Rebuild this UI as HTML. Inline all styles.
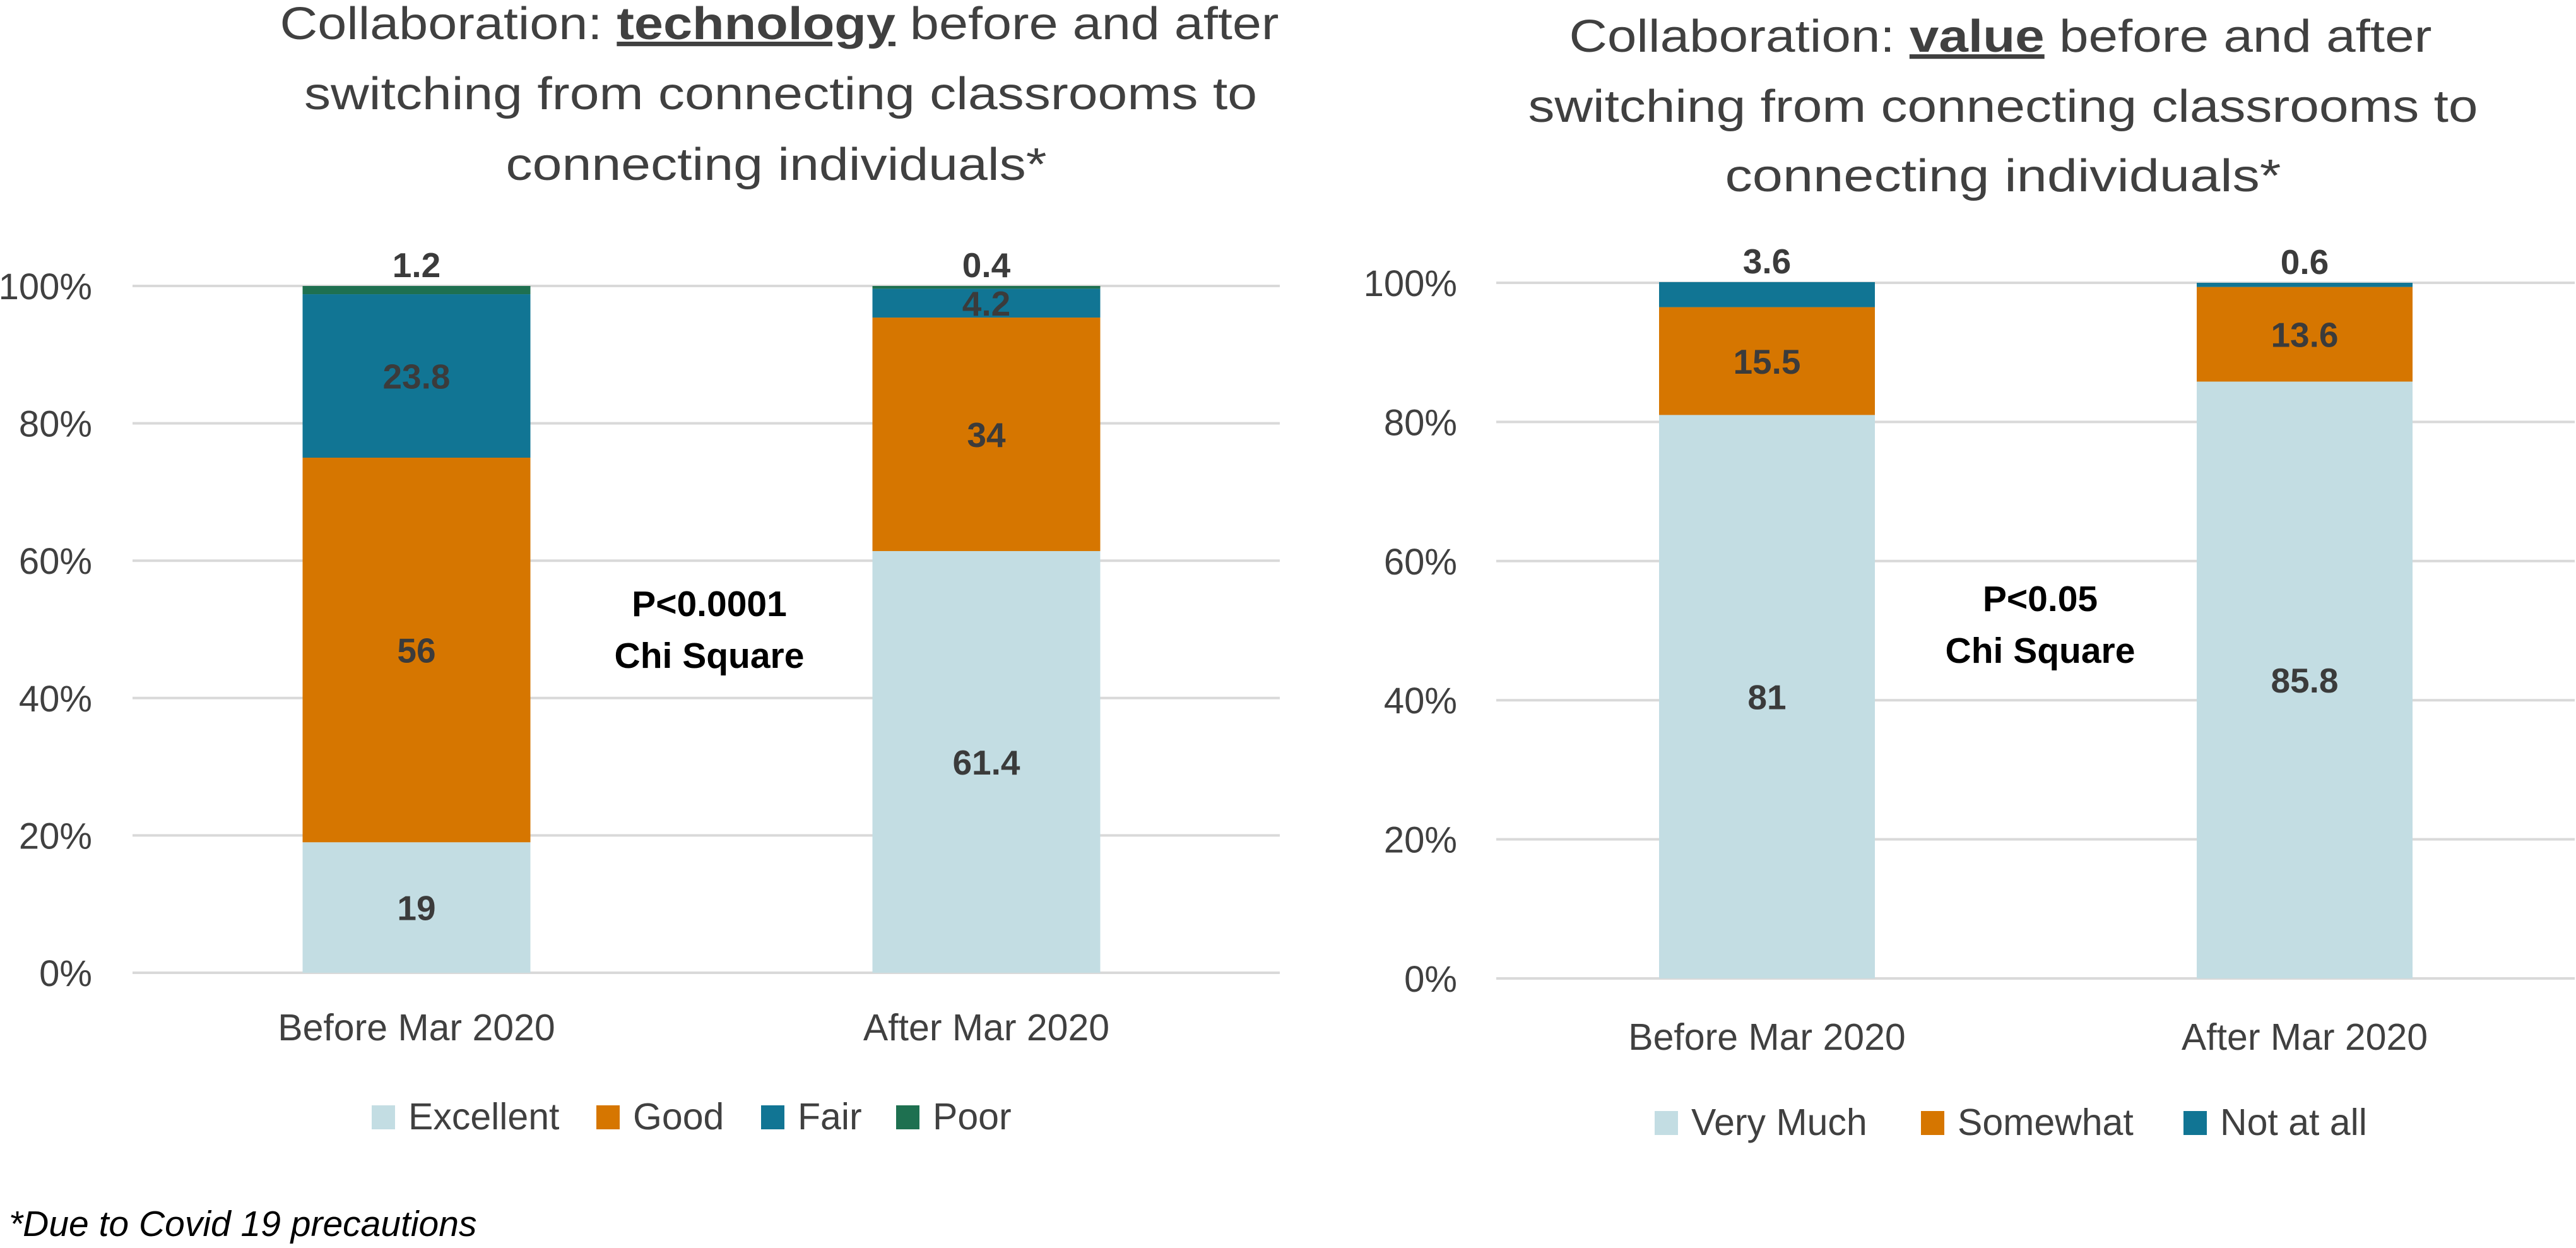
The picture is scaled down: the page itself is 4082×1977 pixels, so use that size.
<!DOCTYPE html>
<html><head><meta charset="utf-8">
<style>
html,body{margin:0;padding:0;background:#fff;}
svg{display:block;font-family:"Liberation Sans",sans-serif;}
</style></head>
<body>
<svg id="root" width="4082" height="1977" viewBox="0 0 4082 1977" xmlns="http://www.w3.org/2000/svg">
  <g fill="#404040" font-size="72" text-anchor="middle">
    <text x="1235" y="62" textLength="1583" lengthAdjust="spacingAndGlyphs">Collaboration: <tspan font-weight="bold" text-decoration="underline">technology</tspan> before and after</text>
    <text x="1237" y="173" textLength="1510" lengthAdjust="spacingAndGlyphs">switching from connecting classrooms to</text>
    <text x="1230" y="285" textLength="857" lengthAdjust="spacingAndGlyphs">connecting individuals*</text>
  </g>
  <g fill="#404040" font-size="72" text-anchor="middle">
    <text x="3170" y="82" textLength="1367" lengthAdjust="spacingAndGlyphs">Collaboration: <tspan font-weight="bold" text-decoration="underline">value</tspan> before and after</text>
    <text x="3174" y="193" textLength="1505" lengthAdjust="spacingAndGlyphs">switching from connecting classrooms to</text>
    <text x="3174" y="303" textLength="881" lengthAdjust="spacingAndGlyphs">connecting individuals*</text>
  </g>
  <g id="left"></g>
  <g id="right"></g>
  <g font-weight="bold" font-size="57" fill="#000" text-anchor="middle">
    <text x="1124" y="976">P&lt;0.0001</text>
    <text x="1124" y="1058">Chi Square</text>
  </g>
  <g font-weight="bold" font-size="57" fill="#000" text-anchor="middle">
    <text x="3233" y="968">P&lt;0.05</text>
    <text x="3233" y="1050">Chi Square</text>
  </g>
  <text x="14" y="1958" font-size="57" font-style="italic" fill="#000">*Due to Covid 19 precautions</text>
</svg>
<script>
// Left chart data
const leftCategories = ["Before Mar 2020", "After Mar 2020"];
const leftSeriesNames = ["Excellent", "Good", "Fair", "Poor"];
const leftExcellent = [19, 61.4];
const leftGood = [56, 34];
const leftFair = [23.8, 4.2];
const leftPoor = [1.2, 0.4];
// Right chart data
const rightCategories = ["Before Mar 2020", "After Mar 2020"];
const rightSeriesNames = ["Very Much", "Somewhat", "Not at all"];
const rightVeryMuch = [81, 85.8];
const rightSomewhat = [15.5, 13.6];
const rightNotAtAll = [3.6, 0.6];
const yTicks = [0, 20, 40, 60, 80, 100];
const yTickLabels = ["0%", "20%", "40%", "60%", "80%", "100%"];

const NS = "http://www.w3.org/2000/svg";
function mk(tag, attrs, parent) {
  const e = document.createElementNS(NS, tag);
  for (const k in attrs) e.setAttribute(k, attrs[k]);
  parent.appendChild(e);
  return e;
}

function drawChart(g, cfg) {
  const yScale = v => cfg.y0 - (v / 100) * (cfg.y0 - cfg.y100);
  // gridlines + ticks
  yTicks.forEach((t, i) => {
    const ln = mk("line", {x1: cfg.gx0, x2: cfg.gx1, y1: yScale(t), y2: yScale(t), stroke: "#D9D9D9", "stroke-width": 4}, g);
    
    
    const tx = mk("text", {x: cfg.labelRight, y: yScale(t) + 21, "text-anchor": "end", "font-size": 58, fill: "#404040"}, g);
    tx.textContent = yTickLabels[i];
    
    
  });
  // bars
  cfg.categories.forEach((cat, ci) => {
    const cx = cfg.centers[ci];
    let cum = 0;
    cfg.series.forEach((s, si) => {
      const v = s[ci];
      const yTop = yScale(cum + v), yBot = yScale(cum);
      const r = mk("rect", {x: cx - cfg.bw / 2, y: yTop, width: cfg.bw, height: yBot - yTop, fill: cfg.colors[si]}, g);
      
      
      const isTop = si === cfg.series.length - 1;
      const ly = isTop ? yTop - 14 : (yTop + yBot) / 2 + 20;
      const lt = mk("text", {x: cx, y: ly, "text-anchor": "middle", "font-size": 55, "font-weight": "bold", fill: "#3B3B3B"}, g);
      lt.textContent = String(v);
      
      
      cum += v;
    });
    const cl = mk("text", {x: cx, y: cfg.catY, "text-anchor": "middle", "font-size": 59, fill: "#404040"}, g);
    cl.textContent = cat;
    
    
  });
  // legend
  cfg.names.forEach((n, i) => {
    const lg = mk("g", {}, g);
    
    
    mk("rect", {x: cfg.legX[i], y: cfg.legY - 38, width: 37, height: 38, fill: cfg.colors[i]}, lg);
    const t = mk("text", {x: cfg.legX[i] + 58, y: cfg.legY, "font-size": 59, fill: "#404040"}, lg);
    t.textContent = n;
  });
}

drawChart(document.getElementById("left"), {
  categories: leftCategories, names: leftSeriesNames,
  series: [leftExcellent, leftGood, leftFair, leftPoor],
  colors: ["#C3DDE3", "#D67600", "#117594", "#1E7050"],
  y0: 1541, y100: 453, gx0: 210, gx1: 2028, labelRight: 146,
  centers: [660, 1563], bw: 361, catY: 1648,
  legX: [589, 945, 1206, 1420], legY: 1789
});
drawChart(document.getElementById("right"), {
  categories: rightCategories, names: rightSeriesNames,
  series: [rightVeryMuch, rightSomewhat, rightNotAtAll],
  colors: ["#C3DDE3", "#D67600", "#117594"],
  y0: 1550, y100: 448, gx0: 2371, gx1: 4080, labelRight: 2309,
  centers: [2800, 3652], bw: 342, catY: 1663,
  legX: [2622, 3044, 3460], legY: 1798
});
</script>
</body></html>
